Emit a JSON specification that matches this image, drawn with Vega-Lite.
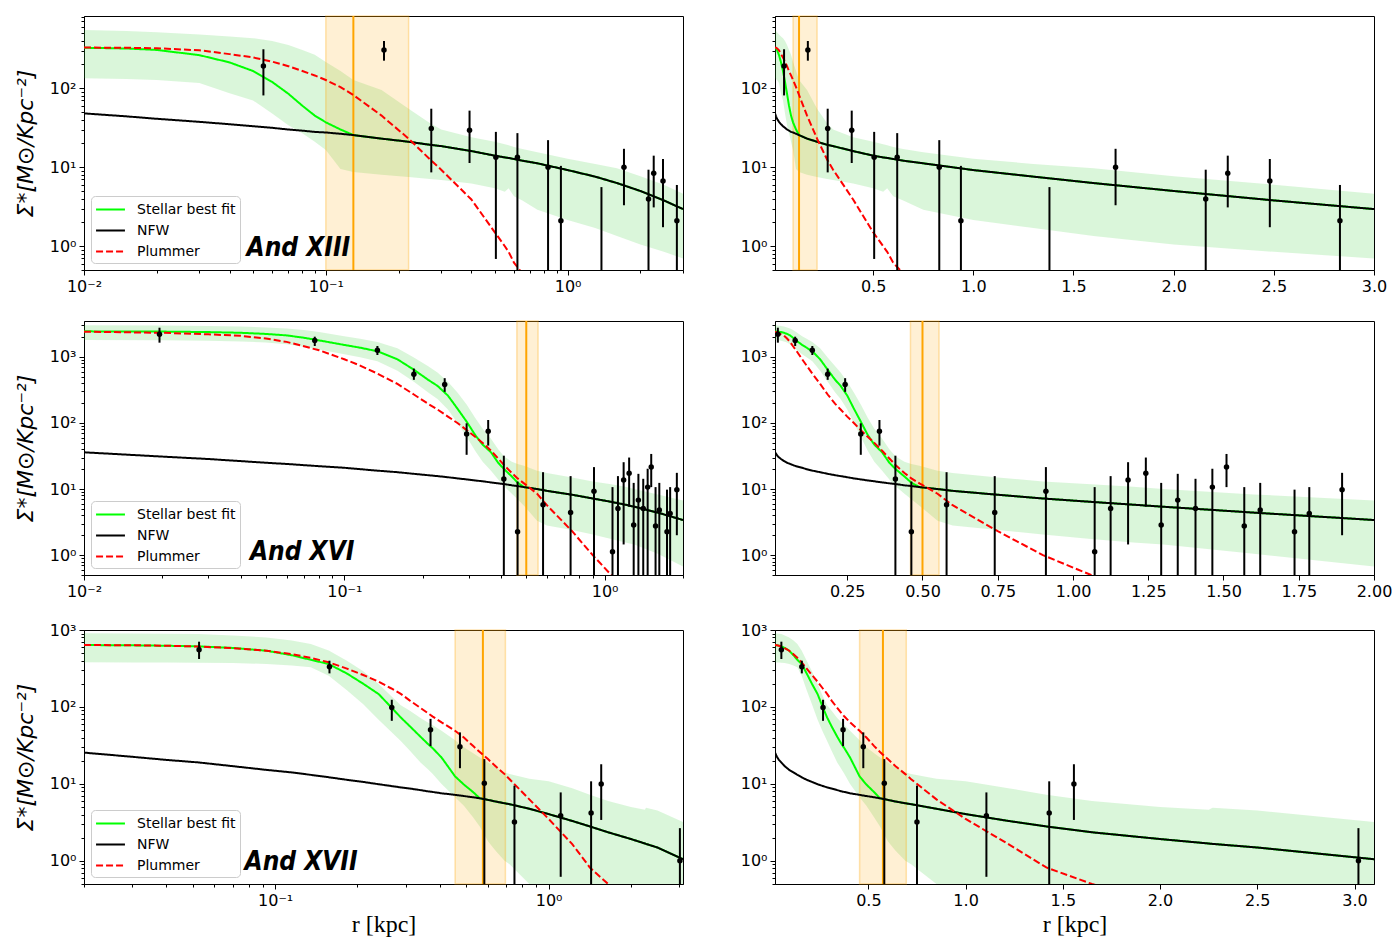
{
  "$schema": "https://vega.github.io/schema/vega-lite/v6.json",
  "background": "white",
  "padding": {"left": 13, "top": 8, "right": 0, "bottom": 0},
  "spacing": 21,
  "config": {
    "view": {"stroke": "black", "strokeWidth": 1},
    "axis": {
      "grid": false,
      "domainColor": "black",
      "domainWidth": 1,
      "tickColor": "black",
      "tickWidth": 1,
      "labelColor": "black",
      "labelFont": "DejaVu Sans",
      "labelFontSize": 16,
      "labelPadding": 3,
      "labelFlush": false,
      "labelOverlap": false,
      "labelBound": false,
      "titleColor": "black",
      "titleFontWeight": "normal"
    },
    "legend": {
      "orient": "bottom-left",
      "offset": 7,
      "padding": 4,
      "fillColor": "rgba(255,255,255,0.8)",
      "strokeColor": "#cccccc",
      "cornerRadius": 4,
      "labelFont": "DejaVu Sans",
      "labelFontSize": 14,
      "labelColor": "black",
      "symbolType": "M-1.7,0H1.7",
      "symbolSize": 289,
      "symbolStrokeWidth": 2,
      "symbolOffset": 6,
      "labelOffset": 17,
      "rowPadding": 4
    }
  },
  "datasets": {
    "xiii": [
      {"r": 0.01, "star": 325, "nfw": 48, "plum": 327, "lo": 134, "hi": 546},
      {"r": 0.015, "star": 318, "nfw": 44, "plum": 325, "lo": 131, "hi": 528},
      {"r": 0.02, "star": 305, "nfw": 41, "plum": 320, "lo": 127, "hi": 510},
      {"r": 0.03, "star": 262, "nfw": 37.5, "plum": 302, "lo": 116, "hi": 480},
      {"r": 0.04, "star": 212, "nfw": 35, "plum": 270, "lo": 86, "hi": 452},
      {"r": 0.05, "star": 165, "nfw": 33, "plum": 245, "lo": 70, "hi": 430},
      {"r": 0.06, "star": 120, "nfw": 31.5, "plum": 217, "lo": 48, "hi": 395},
      {"r": 0.07, "star": 85, "nfw": 30, "plum": 190, "lo": 34, "hi": 352},
      {"r": 0.08, "star": 60, "nfw": 29, "plum": 165, "lo": 27, "hi": 305},
      {"r": 0.09, "star": 45, "nfw": 28, "plum": 145, "lo": 21, "hi": 265},
      {"r": 0.1, "star": 37, "nfw": 27.5, "plum": 127, "lo": 16.5, "hi": 215},
      {"r": 0.115, "star": 30, "nfw": 26.5, "plum": 103, "lo": 9.5, "hi": 165},
      {"r": 0.13, "star": 25.5, "nfw": 25.5, "plum": 82, "lo": 8.7, "hi": 127},
      {"r": 0.17, "star": 23, "nfw": 23, "plum": 45, "lo": 8.0, "hi": 95},
      {"r": 0.22, "star": 21, "nfw": 21, "plum": 23, "lo": 7.5, "hi": 55},
      {"r": 0.27, "star": 19.2, "nfw": 19.2, "plum": 12.5, "lo": 7.1, "hi": 36},
      {"r": 0.3, "star": 18.5, "nfw": 18.5, "plum": 9.3, "lo": 6.9, "hi": 30},
      {"r": 0.4, "star": 16, "nfw": 16, "plum": 3.9, "lo": 6.2, "hi": 24},
      {"r": 0.5, "star": 14, "nfw": 14, "plum": 1.5, "lo": 5.4, "hi": 21},
      {"r": 0.55, "star": 13.3, "nfw": 13.3, "plum": 1.0, "lo": 4.9, "hi": 19.5},
      {"r": 0.57, "star": 13.1, "nfw": 13.1, "plum": 0.85, "lo": 5.4, "hi": 19},
      {"r": 0.6, "star": 12.7, "nfw": 12.7, "plum": 0.62, "lo": 4.3, "hi": 18},
      {"r": 0.65, "star": 12.1, "nfw": 12.1, "plum": 0.45, "lo": 3.8, "hi": 17},
      {"r": 0.75, "star": 11.2, "nfw": 11.2, "plum": null, "lo": 2.9, "hi": 15.5},
      {"r": 1.0, "star": 9.2, "nfw": 9.2, "plum": null, "lo": 2.15, "hi": 12.8},
      {"r": 1.3, "star": 7.6, "nfw": 7.6, "plum": null, "lo": 1.7, "hi": 11},
      {"r": 1.6, "star": 6.3, "nfw": 6.3, "plum": null, "lo": 1.35, "hi": 9.7},
      {"r": 2.0, "star": 5.0, "nfw": 5.0, "plum": null, "lo": 1.05, "hi": 7.7},
      {"r": 2.5, "star": 3.8, "nfw": 3.8, "plum": null, "lo": 0.85, "hi": 6.0},
      {"r": 3.0, "star": 2.95, "nfw": 2.95, "plum": null, "lo": 0.7, "hi": 4.6}
    ],
    "xiii_pts": [
      {"r": 0.0552, "v": 191, "lo": 81, "hi": 311},
      {"r": 0.174, "v": 305, "lo": 223, "hi": 396},
      {"r": 0.273, "v": 31, "lo": 8.6, "hi": 55},
      {"r": 0.393, "v": 29.4, "lo": 11.3, "hi": 52},
      {"r": 0.505, "v": 13.4, "lo": 0.69, "hi": 28},
      {"r": 0.62, "v": 13.4, "lo": 0.05, "hi": 27},
      {"r": 0.83, "v": 10, "lo": 0.05, "hi": 22},
      {"r": 0.938, "v": 2.1, "lo": 0.05, "hi": 10.4},
      {"r": 1.38, "v": 0.2, "lo": 0.05, "hi": 5.6},
      {"r": 1.71, "v": 10, "lo": 3.3, "hi": 17.1},
      {"r": 2.16, "v": 3.96, "lo": 0.05, "hi": 9.3},
      {"r": 2.27, "v": 8.4, "lo": 3.1, "hi": 14},
      {"r": 2.48, "v": 6.7, "lo": 1.74, "hi": 12.7},
      {"r": 2.83, "v": 2.1, "lo": 0.05, "hi": 5.96}
    ],
    "xiii_hl": [{"a": 0.1, "b": 0.22, "c": 0.13}],
    "xiii_lbl": [{"r": 0.047, "v": 0.76, "t": "And XIII"}],
    "xvi": [
      {"r": 0.01, "star": 2440, "nfw": 36, "plum": 2410, "lo": 1800, "hi": 3030},
      {"r": 0.02, "star": 2420, "nfw": 31, "plum": 2320, "lo": 1790, "hi": 3000},
      {"r": 0.03, "star": 2380, "nfw": 28.5, "plum": 2200, "lo": 1760, "hi": 2950},
      {"r": 0.04, "star": 2320, "nfw": 26.5, "plum": 2090, "lo": 1720, "hi": 2880},
      {"r": 0.05, "star": 2230, "nfw": 25, "plum": 1900, "lo": 1650, "hi": 2800},
      {"r": 0.06, "star": 2120, "nfw": 24, "plum": 1690, "lo": 1560, "hi": 2700},
      {"r": 0.07, "star": 1950, "nfw": 23, "plum": 1450, "lo": 1430, "hi": 2550},
      {"r": 0.08, "star": 1780, "nfw": 22.2, "plum": 1260, "lo": 1300, "hi": 2380},
      {"r": 0.1, "star": 1520, "nfw": 21, "plum": 923, "lo": 1100, "hi": 2050},
      {"r": 0.115, "star": 1380, "nfw": 20, "plum": 740, "lo": 990, "hi": 1880},
      {"r": 0.134, "star": 1220, "nfw": 19, "plum": 560, "lo": 860, "hi": 1680},
      {"r": 0.16, "star": 920, "nfw": 18, "plum": 390, "lo": 620, "hi": 1350},
      {"r": 0.185, "star": 640, "nfw": 17, "plum": 270, "lo": 420, "hi": 980},
      {"r": 0.21, "star": 450, "nfw": 16.2, "plum": 195, "lo": 290, "hi": 720},
      {"r": 0.228, "star": 365, "nfw": 15.7, "plum": 160, "lo": 230, "hi": 580},
      {"r": 0.25, "star": 260, "nfw": 15.1, "plum": 125, "lo": 160, "hi": 420},
      {"r": 0.272, "star": 165, "nfw": 14.5, "plum": 100, "lo": 100, "hi": 290},
      {"r": 0.295, "star": 105, "nfw": 14, "plum": 78, "lo": 62, "hi": 190},
      {"r": 0.318, "star": 66, "nfw": 13.5, "plum": 62, "lo": 38, "hi": 120},
      {"r": 0.34, "star": 47, "nfw": 13.1, "plum": 50, "lo": 26, "hi": 82},
      {"r": 0.366, "star": 36, "nfw": 12.6, "plum": 38, "lo": 19, "hi": 58},
      {"r": 0.39, "star": 25, "nfw": 12.2, "plum": 29, "lo": 14, "hi": 40},
      {"r": 0.411, "star": 20, "nfw": 11.9, "plum": 23, "lo": 11, "hi": 31},
      {"r": 0.44, "star": 15.5, "nfw": 11.4, "plum": 17.5, "lo": 8.5, "hi": 26},
      {"r": 0.463, "star": 12.5, "nfw": 11.1, "plum": 14.5, "lo": 7.0, "hi": 24},
      {"r": 0.49, "star": 10.7, "nfw": 10.7, "plum": 12.2, "lo": 5.6, "hi": 22.5},
      {"r": 0.55, "star": 10, "nfw": 10, "plum": 8.5, "lo": 3.3, "hi": 19},
      {"r": 0.6, "star": 9.4, "nfw": 9.4, "plum": 5.7, "lo": 2.8, "hi": 17.5},
      {"r": 0.75, "star": 8.2, "nfw": 8.2, "plum": 2.3, "lo": 2.4, "hi": 15},
      {"r": 0.9, "star": 7.2, "nfw": 7.2, "plum": 1.0, "lo": 2.05, "hi": 13},
      {"r": 1.06, "star": 6.4, "nfw": 6.4, "plum": 0.5, "lo": 1.75, "hi": 11.8},
      {"r": 1.2, "star": 5.8, "nfw": 5.8, "plum": 0.32, "lo": 1.55, "hi": 10.8},
      {"r": 1.3, "star": 5.4, "nfw": 5.4, "plum": null, "lo": 1.45, "hi": 10},
      {"r": 1.6, "star": 4.4, "nfw": 4.4, "plum": null, "lo": 1.05, "hi": 8.3},
      {"r": 2.0, "star": 3.4, "nfw": 3.4, "plum": null, "lo": 0.67, "hi": 6.7}
    ],
    "xvi_pts": [
      {"r": 0.0195, "v": 2200, "lo": 1645, "hi": 2770},
      {"r": 0.077, "v": 1780, "lo": 1465, "hi": 2025},
      {"r": 0.134, "v": 1260, "lo": 1070, "hi": 1465},
      {"r": 0.185, "v": 548, "lo": 450, "hi": 667},
      {"r": 0.243, "v": 383, "lo": 296, "hi": 477},
      {"r": 0.295, "v": 68, "lo": 33, "hi": 99},
      {"r": 0.357, "v": 75, "lo": 45.5, "hi": 111},
      {"r": 0.41, "v": 14.2, "lo": 0.05, "hi": 32},
      {"r": 0.463, "v": 2.25, "lo": 0.05, "hi": 13},
      {"r": 0.58, "v": 5.8, "lo": 0.05, "hi": 18},
      {"r": 0.74, "v": 4.4, "lo": 0.05, "hi": 15.7},
      {"r": 0.91, "v": 9.3, "lo": 0.05, "hi": 21.5},
      {"r": 1.072, "v": 1.12, "lo": 0.05, "hi": 10.7},
      {"r": 1.125, "v": 5.06, "lo": 0.05, "hi": 15.7},
      {"r": 1.183, "v": 13.7, "lo": 1.45, "hi": 25.5},
      {"r": 1.242, "v": 17.4, "lo": 5.4, "hi": 30},
      {"r": 1.293, "v": 2.86, "lo": 0.05, "hi": 12.4},
      {"r": 1.348, "v": 6.8, "lo": 0.05, "hi": 17},
      {"r": 1.407, "v": 5.06, "lo": 0.05, "hi": 14.3},
      {"r": 1.463, "v": 10.7, "lo": 0.05, "hi": 20.3},
      {"r": 1.51, "v": 21.5, "lo": 10.7, "hi": 34},
      {"r": 1.569, "v": 2.77, "lo": 0.05, "hi": 10.7},
      {"r": 1.622, "v": 4.8, "lo": 0.05, "hi": 12.4},
      {"r": 1.736, "v": 2.25, "lo": 0.05, "hi": 9.8},
      {"r": 1.785, "v": 4.25, "lo": 0.05, "hi": 10.7},
      {"r": 1.894, "v": 9.8, "lo": 2.0, "hi": 17.6}
    ],
    "xvi_hl": [{"a": 0.46, "b": 0.555, "c": 0.5}],
    "xvi_lbl": [{"r": 0.0434, "v": 0.85, "t": "And XVI"}],
    "xvii": [
      {"r": 0.02, "star": 638, "nfw": 25.5, "plum": 638, "lo": 380, "hi": 905},
      {"r": 0.03, "star": 632, "nfw": 22.5, "plum": 634, "lo": 379, "hi": 900},
      {"r": 0.04, "star": 624, "nfw": 20.5, "plum": 625, "lo": 378, "hi": 895},
      {"r": 0.0525, "star": 612, "nfw": 19, "plum": 610, "lo": 376, "hi": 885},
      {"r": 0.07, "star": 585, "nfw": 17, "plum": 580, "lo": 372, "hi": 850},
      {"r": 0.093, "star": 538, "nfw": 15.2, "plum": 538, "lo": 362, "hi": 800},
      {"r": 0.115, "star": 470, "nfw": 14.1, "plum": 485, "lo": 345, "hi": 730},
      {"r": 0.135, "star": 410, "nfw": 13.1, "plum": 435, "lo": 327, "hi": 658},
      {"r": 0.157, "star": 361, "nfw": 12.2, "plum": 380, "lo": 255, "hi": 540},
      {"r": 0.183, "star": 272, "nfw": 11.3, "plum": 315, "lo": 165, "hi": 398},
      {"r": 0.21, "star": 200, "nfw": 10.6, "plum": 260, "lo": 108, "hi": 290},
      {"r": 0.239, "star": 147, "nfw": 9.9, "plum": 213, "lo": 68, "hi": 199},
      {"r": 0.265, "star": 100, "nfw": 9.4, "plum": 175, "lo": 48, "hi": 140},
      {"r": 0.288, "star": 73, "nfw": 9.0, "plum": 148, "lo": 36, "hi": 105},
      {"r": 0.311, "star": 56, "nfw": 8.7, "plum": 121, "lo": 27, "hi": 89},
      {"r": 0.34, "star": 41, "nfw": 8.3, "plum": 97, "lo": 19, "hi": 72},
      {"r": 0.362, "star": 33, "nfw": 8.0, "plum": 83, "lo": 15.5, "hi": 63},
      {"r": 0.377, "star": 29, "nfw": 7.85, "plum": 75, "lo": 13.4, "hi": 58},
      {"r": 0.406, "star": 22, "nfw": 7.55, "plum": 63, "lo": 10, "hi": 49},
      {"r": 0.455, "star": 12.5, "nfw": 7.2, "plum": 49, "lo": 6.7, "hi": 37},
      {"r": 0.49, "star": 9.8, "nfw": 6.95, "plum": 40, "lo": 5.2, "hi": 30},
      {"r": 0.53, "star": 7.8, "nfw": 6.7, "plum": 31, "lo": 3.66, "hi": 25},
      {"r": 0.56, "star": 6.5, "nfw": 6.5, "plum": 26, "lo": 2.8, "hi": 22},
      {"r": 0.6, "star": 6.2, "nfw": 6.2, "plum": 21, "lo": 1.8, "hi": 19},
      {"r": 0.64, "star": 5.9, "nfw": 5.9, "plum": 17, "lo": 1.35, "hi": 16.4},
      {"r": 0.69, "star": 5.6, "nfw": 5.6, "plum": 13.4, "lo": 1.0, "hi": 14.2},
      {"r": 0.72, "star": 5.45, "nfw": 5.45, "plum": 11.5, "lo": 0.9, "hi": 13.4},
      {"r": 0.85, "star": 4.75, "nfw": 4.75, "plum": 6.3, "lo": 0.5, "hi": 11.7},
      {"r": 1.0, "star": 4.05, "nfw": 4.05, "plum": 3.5, "lo": 0.35, "hi": 10.8},
      {"r": 1.22, "star": 3.3, "nfw": 3.3, "plum": 1.65, "lo": 0.3, "hi": 8.8},
      {"r": 1.415, "star": 2.8, "nfw": 2.8, "plum": 0.82, "lo": 0.3, "hi": 7.2},
      {"r": 1.65, "star": 2.35, "nfw": 2.35, "plum": 0.5, "lo": 0.3, "hi": 6.0},
      {"r": 2.0, "star": 1.92, "nfw": 1.92, "plum": 0.28, "lo": 0.3, "hi": 5.0},
      {"r": 2.25, "star": 1.68, "nfw": 1.68, "plum": null, "lo": 0.3, "hi": 4.6},
      {"r": 2.27, "star": 1.66, "nfw": 1.66, "plum": null, "lo": 0.3, "hi": 4.9},
      {"r": 2.5, "star": 1.49, "nfw": 1.49, "plum": null, "lo": 0.3, "hi": 4.5},
      {"r": 3.1, "star": 1.05, "nfw": 1.05, "plum": null, "lo": 0.3, "hi": 3.2}
    ],
    "xvii_pts": [
      {"r": 0.0527, "v": 555, "lo": 420, "hi": 705},
      {"r": 0.158, "v": 334, "lo": 273, "hi": 399},
      {"r": 0.267, "v": 98.6, "lo": 66, "hi": 124},
      {"r": 0.37, "v": 50.6, "lo": 31, "hi": 70},
      {"r": 0.474, "v": 30.4, "lo": 16, "hi": 46.7},
      {"r": 0.582, "v": 10.2, "lo": 0.05, "hi": 21},
      {"r": 0.75, "v": 3.2, "lo": 0.05, "hi": 9.5},
      {"r": 1.107, "v": 3.85, "lo": 0.62, "hi": 7.75},
      {"r": 1.43, "v": 4.2, "lo": 0.05, "hi": 10.8},
      {"r": 1.557, "v": 10, "lo": 3.4, "hi": 18},
      {"r": 3.02, "v": 1.0, "lo": 0.05, "hi": 2.66}
    ],
    "xvii_hl": [{"a": 0.455, "b": 0.695, "c": 0.575}],
    "xvii_lbl": [{"r": 0.0773, "v": 0.757, "t": "And XVII"}]
  },
  "resolve": {"scale": {"color": "independent", "strokeDash": "independent"}},
  "vconcat": [
    {
      "spacing": 55,
      "resolve": {"scale": {"color": "independent", "strokeDash": "independent"}},
      "hconcat": [
        {
          "width": 599, "height": 254,
          "layer": [
            {"data": {"name": "xiii"}, "mark": {"type": "area", "color": "#32cd32", "opacity": 0.18, "clip": true},
             "encoding": {
               "x": {"field": "r", "type": "quantitative", "scale": {"type": "log", "domain": [0.01, 3], "nice": false},
                     "axis": {"title": null, "values": [0.01,0.02,0.03,0.04,0.05,0.06,0.07,0.08,0.09,0.1,0.2,0.3,0.4,0.5,0.6,0.7,0.8,0.9,1,2,3],
                              "labelExpr": "abs(log(datum.value)/LN10 - round(log(datum.value)/LN10)) < 0.001 ? ['10⁻²','10⁻¹','10⁰','10¹','10²','10³'][round(log(datum.value)/LN10) + 2] : ''",
                              "tickSize": {"condition": {"test": "abs(log(datum.value)/LN10 - round(log(datum.value)/LN10)) < 0.001", "value": 5}, "value": 3}}},
               "y": {"field": "hi", "type": "quantitative", "scale": {"type": "log", "domain": [0.5, 820], "nice": false},
                     "axis": {"title": "Σ*[M⊙/Kpc⁻²]", "titleFont": "DejaVu Sans", "titleFontSize": 22, "titleFontStyle": "italic", "titlePadding": 12,
                              "values": [0.5,0.6,0.7,0.8,0.9,1,2,3,4,5,6,7,8,9,10,20,30,40,50,60,70,80,90,100,200,300,400,500,600,700,800],
                              "labelExpr": "abs(log(datum.value)/LN10 - round(log(datum.value)/LN10)) < 0.001 ? ['10⁻²','10⁻¹','10⁰','10¹','10²','10³'][round(log(datum.value)/LN10) + 2] : ''",
                              "tickSize": {"condition": {"test": "abs(log(datum.value)/LN10 - round(log(datum.value)/LN10)) < 0.001", "value": 5}, "value": 3}}},
               "y2": {"field": "lo"}
             }},
            {"data": {"name": "xiii_hl"}, "mark": {"type": "rect", "fill": "#ffa500", "fillOpacity": 0.17, "stroke": "#ffa500", "strokeOpacity": 0.3, "strokeWidth": 1.5},
             "encoding": {"x": {"field": "a", "type": "quantitative", "scale": {"type": "log", "domain": [0.01, 3], "nice": false}}, "x2": {"field": "b"}}},
            {"data": {"name": "xiii_hl"}, "mark": {"type": "rule", "color": "#ffa500", "strokeWidth": 2},
             "encoding": {"x": {"field": "c", "type": "quantitative", "scale": {"type": "log", "domain": [0.01, 3], "nice": false}}}},
            {"data": {"name": "xiii"}, "mark": {"type": "line", "strokeWidth": 2, "clip": true},
             "encoding": {
               "x": {"field": "r", "type": "quantitative", "scale": {"type": "log", "domain": [0.01, 3], "nice": false}},
               "y": {"field": "star", "type": "quantitative", "scale": {"type": "log", "domain": [0.5, 820], "nice": false}},
               "color": {"datum": "Stellar best fit", "type": "nominal", "scale": {"domain": ["Stellar best fit", "NFW", "Plummer"], "range": ["#00ff00", "#000000", "#ff0000"]}, "legend": {"title": null}},
               "strokeDash": {"datum": "Stellar best fit", "type": "nominal", "scale": {"domain": ["Stellar best fit", "NFW", "Plummer"], "range": [[1, 0], [1, 0], [7, 3]]}, "legend": {"title": null}}
             }},
            {"data": {"name": "xiii"}, "mark": {"type": "line", "strokeWidth": 2, "clip": true},
             "encoding": {
               "x": {"field": "r", "type": "quantitative", "scale": {"type": "log", "domain": [0.01, 3], "nice": false}},
               "y": {"field": "nfw", "type": "quantitative", "scale": {"type": "log", "domain": [0.5, 820], "nice": false}},
               "color": {"datum": "NFW", "type": "nominal", "scale": {"domain": ["Stellar best fit", "NFW", "Plummer"], "range": ["#00ff00", "#000000", "#ff0000"]}, "legend": {"title": null}},
               "strokeDash": {"datum": "NFW", "type": "nominal", "scale": {"domain": ["Stellar best fit", "NFW", "Plummer"], "range": [[1, 0], [1, 0], [7, 3]]}, "legend": {"title": null}}
             }},
            {"data": {"name": "xiii"}, "mark": {"type": "line", "strokeWidth": 2, "clip": true},
             "encoding": {
               "x": {"field": "r", "type": "quantitative", "scale": {"type": "log", "domain": [0.01, 3], "nice": false}},
               "y": {"field": "plum", "type": "quantitative", "scale": {"type": "log", "domain": [0.5, 820], "nice": false}},
               "color": {"datum": "Plummer", "type": "nominal", "scale": {"domain": ["Stellar best fit", "NFW", "Plummer"], "range": ["#00ff00", "#000000", "#ff0000"]}, "legend": {"title": null}},
               "strokeDash": {"datum": "Plummer", "type": "nominal", "scale": {"domain": ["Stellar best fit", "NFW", "Plummer"], "range": [[1, 0], [1, 0], [7, 3]]}, "legend": {"title": null}}
             }},
            {"data": {"name": "xiii_pts"}, "mark": {"type": "rule", "color": "black", "strokeWidth": 2, "clip": true},
             "encoding": {
               "x": {"field": "r", "type": "quantitative", "scale": {"type": "log", "domain": [0.01, 3], "nice": false}},
               "y": {"field": "lo", "type": "quantitative", "scale": {"type": "log", "domain": [0.5, 820], "nice": false}},
               "y2": {"field": "hi"}
             }},
            {"data": {"name": "xiii_pts"}, "mark": {"type": "circle", "color": "black", "opacity": 1, "size": 30, "clip": true},
             "encoding": {
               "x": {"field": "r", "type": "quantitative", "scale": {"type": "log", "domain": [0.01, 3], "nice": false}},
               "y": {"field": "v", "type": "quantitative", "scale": {"type": "log", "domain": [0.5, 820], "nice": false}}
             }},
            {"data": {"name": "xiii_lbl"}, "mark": {"type": "text", "font": "DejaVu Sans Condensed, DejaVu Sans", "fontSize": 26, "fontWeight": "bold", "fontStyle": "italic", "align": "left", "baseline": "alphabetic", "color": "black"},
             "encoding": {
               "x": {"field": "r", "type": "quantitative", "scale": {"type": "log", "domain": [0.01, 3], "nice": false}},
               "y": {"field": "v", "type": "quantitative", "scale": {"type": "log", "domain": [0.5, 820], "nice": false}},
               "text": {"field": "t"}
             }}
          ]
        },
        {
          "width": 599, "height": 254,
          "layer": [
            {"data": {"name": "xiii"}, "mark": {"type": "area", "color": "#32cd32", "opacity": 0.18, "clip": true},
             "encoding": {
               "x": {"field": "r", "type": "quantitative", "scale": {"type": "linear", "domain": [0.01, 3], "nice": false, "zero": false},
                     "axis": {"title": null, "values": [0.5, 1, 1.5, 2, 2.5, 3], "format": ".1f", "tickSize": 5}},
               "y": {"field": "hi", "type": "quantitative", "scale": {"type": "log", "domain": [0.5, 820], "nice": false},
                     "axis": {"title": null,
                              "values": [0.5,0.6,0.7,0.8,0.9,1,2,3,4,5,6,7,8,9,10,20,30,40,50,60,70,80,90,100,200,300,400,500,600,700,800],
                              "labelExpr": "abs(log(datum.value)/LN10 - round(log(datum.value)/LN10)) < 0.001 ? ['10⁻²','10⁻¹','10⁰','10¹','10²','10³'][round(log(datum.value)/LN10) + 2] : ''",
                              "tickSize": {"condition": {"test": "abs(log(datum.value)/LN10 - round(log(datum.value)/LN10)) < 0.001", "value": 5}, "value": 3}}},
               "y2": {"field": "lo"}
             }},
            {"data": {"name": "xiii_hl"}, "mark": {"type": "rect", "fill": "#ffa500", "fillOpacity": 0.17, "stroke": "#ffa500", "strokeOpacity": 0.3, "strokeWidth": 1.5},
             "encoding": {"x": {"field": "a", "type": "quantitative", "scale": {"type": "linear", "domain": [0.01, 3], "nice": false, "zero": false}}, "x2": {"field": "b"}}},
            {"data": {"name": "xiii_hl"}, "mark": {"type": "rule", "color": "#ffa500", "strokeWidth": 2},
             "encoding": {"x": {"field": "c", "type": "quantitative", "scale": {"type": "linear", "domain": [0.01, 3], "nice": false, "zero": false}}}},
            {"data": {"name": "xiii"}, "mark": {"type": "line", "strokeWidth": 2, "clip": true},
             "encoding": {
               "x": {"field": "r", "type": "quantitative", "scale": {"type": "linear", "domain": [0.01, 3], "nice": false, "zero": false}},
               "y": {"field": "star", "type": "quantitative", "scale": {"type": "log", "domain": [0.5, 820], "nice": false}},
               "color": {"datum": "Stellar best fit", "type": "nominal", "scale": {"domain": ["Stellar best fit", "NFW", "Plummer"], "range": ["#00ff00", "#000000", "#ff0000"]}, "legend": null},
               "strokeDash": {"datum": "Stellar best fit", "type": "nominal", "scale": {"domain": ["Stellar best fit", "NFW", "Plummer"], "range": [[1, 0], [1, 0], [7, 3]]}, "legend": null}
             }},
            {"data": {"name": "xiii"}, "mark": {"type": "line", "strokeWidth": 2, "clip": true},
             "encoding": {
               "x": {"field": "r", "type": "quantitative", "scale": {"type": "linear", "domain": [0.01, 3], "nice": false, "zero": false}},
               "y": {"field": "nfw", "type": "quantitative", "scale": {"type": "log", "domain": [0.5, 820], "nice": false}},
               "color": {"datum": "NFW", "type": "nominal", "scale": {"domain": ["Stellar best fit", "NFW", "Plummer"], "range": ["#00ff00", "#000000", "#ff0000"]}, "legend": null},
               "strokeDash": {"datum": "NFW", "type": "nominal", "scale": {"domain": ["Stellar best fit", "NFW", "Plummer"], "range": [[1, 0], [1, 0], [7, 3]]}, "legend": null}
             }},
            {"data": {"name": "xiii"}, "mark": {"type": "line", "strokeWidth": 2, "clip": true},
             "encoding": {
               "x": {"field": "r", "type": "quantitative", "scale": {"type": "linear", "domain": [0.01, 3], "nice": false, "zero": false}},
               "y": {"field": "plum", "type": "quantitative", "scale": {"type": "log", "domain": [0.5, 820], "nice": false}},
               "color": {"datum": "Plummer", "type": "nominal", "scale": {"domain": ["Stellar best fit", "NFW", "Plummer"], "range": ["#00ff00", "#000000", "#ff0000"]}, "legend": null},
               "strokeDash": {"datum": "Plummer", "type": "nominal", "scale": {"domain": ["Stellar best fit", "NFW", "Plummer"], "range": [[1, 0], [1, 0], [7, 3]]}, "legend": null}
             }},
            {"data": {"name": "xiii_pts"}, "mark": {"type": "rule", "color": "black", "strokeWidth": 2, "clip": true},
             "encoding": {
               "x": {"field": "r", "type": "quantitative", "scale": {"type": "linear", "domain": [0.01, 3], "nice": false, "zero": false}},
               "y": {"field": "lo", "type": "quantitative", "scale": {"type": "log", "domain": [0.5, 820], "nice": false}},
               "y2": {"field": "hi"}
             }},
            {"data": {"name": "xiii_pts"}, "mark": {"type": "circle", "color": "black", "opacity": 1, "size": 30, "clip": true},
             "encoding": {
               "x": {"field": "r", "type": "quantitative", "scale": {"type": "linear", "domain": [0.01, 3], "nice": false, "zero": false}},
               "y": {"field": "v", "type": "quantitative", "scale": {"type": "log", "domain": [0.5, 820], "nice": false}}
             }}
          ]
        }
      ]
    },
    {
      "spacing": 55,
      "resolve": {"scale": {"color": "independent", "strokeDash": "independent"}},
      "hconcat": [
        {
          "width": 599, "height": 254,
          "layer": [
            {"data": {"name": "xvi"}, "mark": {"type": "area", "color": "#32cd32", "opacity": 0.18, "clip": true},
             "encoding": {
               "x": {"field": "r", "type": "quantitative", "scale": {"type": "log", "domain": [0.01, 2], "nice": false},
                     "axis": {"title": null, "values": [0.01,0.02,0.03,0.04,0.05,0.06,0.07,0.08,0.09,0.1,0.2,0.3,0.4,0.5,0.6,0.7,0.8,0.9,1,2],
                              "labelExpr": "abs(log(datum.value)/LN10 - round(log(datum.value)/LN10)) < 0.001 ? ['10⁻²','10⁻¹','10⁰','10¹','10²','10³'][round(log(datum.value)/LN10) + 2] : ''",
                              "tickSize": {"condition": {"test": "abs(log(datum.value)/LN10 - round(log(datum.value)/LN10)) < 0.001", "value": 5}, "value": 3}}},
               "y": {"field": "hi", "type": "quantitative", "scale": {"type": "log", "domain": [0.5, 3500], "nice": false},
                     "axis": {"title": "Σ*[M⊙/Kpc⁻²]", "titleFont": "DejaVu Sans", "titleFontSize": 22, "titleFontStyle": "italic", "titlePadding": 12,
                              "values": [0.5,0.6,0.7,0.8,0.9,1,2,3,4,5,6,7,8,9,10,20,30,40,50,60,70,80,90,100,200,300,400,500,600,700,800,900,1000,2000,3000],
                              "labelExpr": "abs(log(datum.value)/LN10 - round(log(datum.value)/LN10)) < 0.001 ? ['10⁻²','10⁻¹','10⁰','10¹','10²','10³'][round(log(datum.value)/LN10) + 2] : ''",
                              "tickSize": {"condition": {"test": "abs(log(datum.value)/LN10 - round(log(datum.value)/LN10)) < 0.001", "value": 5}, "value": 3}}},
               "y2": {"field": "lo"}
             }},
            {"data": {"name": "xvi_hl"}, "mark": {"type": "rect", "fill": "#ffa500", "fillOpacity": 0.17, "stroke": "#ffa500", "strokeOpacity": 0.3, "strokeWidth": 1.5},
             "encoding": {"x": {"field": "a", "type": "quantitative", "scale": {"type": "log", "domain": [0.01, 2], "nice": false}}, "x2": {"field": "b"}}},
            {"data": {"name": "xvi_hl"}, "mark": {"type": "rule", "color": "#ffa500", "strokeWidth": 2},
             "encoding": {"x": {"field": "c", "type": "quantitative", "scale": {"type": "log", "domain": [0.01, 2], "nice": false}}}},
            {"data": {"name": "xvi"}, "mark": {"type": "line", "strokeWidth": 2, "clip": true},
             "encoding": {
               "x": {"field": "r", "type": "quantitative", "scale": {"type": "log", "domain": [0.01, 2], "nice": false}},
               "y": {"field": "star", "type": "quantitative", "scale": {"type": "log", "domain": [0.5, 3500], "nice": false}},
               "color": {"datum": "Stellar best fit", "type": "nominal", "scale": {"domain": ["Stellar best fit", "NFW", "Plummer"], "range": ["#00ff00", "#000000", "#ff0000"]}, "legend": {"title": null}},
               "strokeDash": {"datum": "Stellar best fit", "type": "nominal", "scale": {"domain": ["Stellar best fit", "NFW", "Plummer"], "range": [[1, 0], [1, 0], [7, 3]]}, "legend": {"title": null}}
             }},
            {"data": {"name": "xvi"}, "mark": {"type": "line", "strokeWidth": 2, "clip": true},
             "encoding": {
               "x": {"field": "r", "type": "quantitative", "scale": {"type": "log", "domain": [0.01, 2], "nice": false}},
               "y": {"field": "nfw", "type": "quantitative", "scale": {"type": "log", "domain": [0.5, 3500], "nice": false}},
               "color": {"datum": "NFW", "type": "nominal", "scale": {"domain": ["Stellar best fit", "NFW", "Plummer"], "range": ["#00ff00", "#000000", "#ff0000"]}, "legend": {"title": null}},
               "strokeDash": {"datum": "NFW", "type": "nominal", "scale": {"domain": ["Stellar best fit", "NFW", "Plummer"], "range": [[1, 0], [1, 0], [7, 3]]}, "legend": {"title": null}}
             }},
            {"data": {"name": "xvi"}, "mark": {"type": "line", "strokeWidth": 2, "clip": true},
             "encoding": {
               "x": {"field": "r", "type": "quantitative", "scale": {"type": "log", "domain": [0.01, 2], "nice": false}},
               "y": {"field": "plum", "type": "quantitative", "scale": {"type": "log", "domain": [0.5, 3500], "nice": false}},
               "color": {"datum": "Plummer", "type": "nominal", "scale": {"domain": ["Stellar best fit", "NFW", "Plummer"], "range": ["#00ff00", "#000000", "#ff0000"]}, "legend": {"title": null}},
               "strokeDash": {"datum": "Plummer", "type": "nominal", "scale": {"domain": ["Stellar best fit", "NFW", "Plummer"], "range": [[1, 0], [1, 0], [7, 3]]}, "legend": {"title": null}}
             }},
            {"data": {"name": "xvi_pts"}, "mark": {"type": "rule", "color": "black", "strokeWidth": 2, "clip": true},
             "encoding": {
               "x": {"field": "r", "type": "quantitative", "scale": {"type": "log", "domain": [0.01, 2], "nice": false}},
               "y": {"field": "lo", "type": "quantitative", "scale": {"type": "log", "domain": [0.5, 3500], "nice": false}},
               "y2": {"field": "hi"}
             }},
            {"data": {"name": "xvi_pts"}, "mark": {"type": "circle", "color": "black", "opacity": 1, "size": 30, "clip": true},
             "encoding": {
               "x": {"field": "r", "type": "quantitative", "scale": {"type": "log", "domain": [0.01, 2], "nice": false}},
               "y": {"field": "v", "type": "quantitative", "scale": {"type": "log", "domain": [0.5, 3500], "nice": false}}
             }},
            {"data": {"name": "xvi_lbl"}, "mark": {"type": "text", "font": "DejaVu Sans Condensed, DejaVu Sans", "fontSize": 26, "fontWeight": "bold", "fontStyle": "italic", "align": "left", "baseline": "alphabetic", "color": "black"},
             "encoding": {
               "x": {"field": "r", "type": "quantitative", "scale": {"type": "log", "domain": [0.01, 2], "nice": false}},
               "y": {"field": "v", "type": "quantitative", "scale": {"type": "log", "domain": [0.5, 3500], "nice": false}},
               "text": {"field": "t"}
             }}
          ]
        },
        {
          "width": 599, "height": 254,
          "layer": [
            {"data": {"name": "xvi"}, "mark": {"type": "area", "color": "#32cd32", "opacity": 0.18, "clip": true},
             "encoding": {
               "x": {"field": "r", "type": "quantitative", "scale": {"type": "linear", "domain": [0.01, 2], "nice": false, "zero": false},
                     "axis": {"title": null, "values": [0.25, 0.5, 0.75, 1, 1.25, 1.5, 1.75, 2], "format": ".2f", "tickSize": 5}},
               "y": {"field": "hi", "type": "quantitative", "scale": {"type": "log", "domain": [0.5, 3500], "nice": false},
                     "axis": {"title": null,
                              "values": [0.5,0.6,0.7,0.8,0.9,1,2,3,4,5,6,7,8,9,10,20,30,40,50,60,70,80,90,100,200,300,400,500,600,700,800,900,1000,2000,3000],
                              "labelExpr": "abs(log(datum.value)/LN10 - round(log(datum.value)/LN10)) < 0.001 ? ['10⁻²','10⁻¹','10⁰','10¹','10²','10³'][round(log(datum.value)/LN10) + 2] : ''",
                              "tickSize": {"condition": {"test": "abs(log(datum.value)/LN10 - round(log(datum.value)/LN10)) < 0.001", "value": 5}, "value": 3}}},
               "y2": {"field": "lo"}
             }},
            {"data": {"name": "xvi_hl"}, "mark": {"type": "rect", "fill": "#ffa500", "fillOpacity": 0.17, "stroke": "#ffa500", "strokeOpacity": 0.3, "strokeWidth": 1.5},
             "encoding": {"x": {"field": "a", "type": "quantitative", "scale": {"type": "linear", "domain": [0.01, 2], "nice": false, "zero": false}}, "x2": {"field": "b"}}},
            {"data": {"name": "xvi_hl"}, "mark": {"type": "rule", "color": "#ffa500", "strokeWidth": 2},
             "encoding": {"x": {"field": "c", "type": "quantitative", "scale": {"type": "linear", "domain": [0.01, 2], "nice": false, "zero": false}}}},
            {"data": {"name": "xvi"}, "mark": {"type": "line", "strokeWidth": 2, "clip": true},
             "encoding": {
               "x": {"field": "r", "type": "quantitative", "scale": {"type": "linear", "domain": [0.01, 2], "nice": false, "zero": false}},
               "y": {"field": "star", "type": "quantitative", "scale": {"type": "log", "domain": [0.5, 3500], "nice": false}},
               "color": {"datum": "Stellar best fit", "type": "nominal", "scale": {"domain": ["Stellar best fit", "NFW", "Plummer"], "range": ["#00ff00", "#000000", "#ff0000"]}, "legend": null},
               "strokeDash": {"datum": "Stellar best fit", "type": "nominal", "scale": {"domain": ["Stellar best fit", "NFW", "Plummer"], "range": [[1, 0], [1, 0], [7, 3]]}, "legend": null}
             }},
            {"data": {"name": "xvi"}, "mark": {"type": "line", "strokeWidth": 2, "clip": true},
             "encoding": {
               "x": {"field": "r", "type": "quantitative", "scale": {"type": "linear", "domain": [0.01, 2], "nice": false, "zero": false}},
               "y": {"field": "nfw", "type": "quantitative", "scale": {"type": "log", "domain": [0.5, 3500], "nice": false}},
               "color": {"datum": "NFW", "type": "nominal", "scale": {"domain": ["Stellar best fit", "NFW", "Plummer"], "range": ["#00ff00", "#000000", "#ff0000"]}, "legend": null},
               "strokeDash": {"datum": "NFW", "type": "nominal", "scale": {"domain": ["Stellar best fit", "NFW", "Plummer"], "range": [[1, 0], [1, 0], [7, 3]]}, "legend": null}
             }},
            {"data": {"name": "xvi"}, "mark": {"type": "line", "strokeWidth": 2, "clip": true},
             "encoding": {
               "x": {"field": "r", "type": "quantitative", "scale": {"type": "linear", "domain": [0.01, 2], "nice": false, "zero": false}},
               "y": {"field": "plum", "type": "quantitative", "scale": {"type": "log", "domain": [0.5, 3500], "nice": false}},
               "color": {"datum": "Plummer", "type": "nominal", "scale": {"domain": ["Stellar best fit", "NFW", "Plummer"], "range": ["#00ff00", "#000000", "#ff0000"]}, "legend": null},
               "strokeDash": {"datum": "Plummer", "type": "nominal", "scale": {"domain": ["Stellar best fit", "NFW", "Plummer"], "range": [[1, 0], [1, 0], [7, 3]]}, "legend": null}
             }},
            {"data": {"name": "xvi_pts"}, "mark": {"type": "rule", "color": "black", "strokeWidth": 2, "clip": true},
             "encoding": {
               "x": {"field": "r", "type": "quantitative", "scale": {"type": "linear", "domain": [0.01, 2], "nice": false, "zero": false}},
               "y": {"field": "lo", "type": "quantitative", "scale": {"type": "log", "domain": [0.5, 3500], "nice": false}},
               "y2": {"field": "hi"}
             }},
            {"data": {"name": "xvi_pts"}, "mark": {"type": "circle", "color": "black", "opacity": 1, "size": 30, "clip": true},
             "encoding": {
               "x": {"field": "r", "type": "quantitative", "scale": {"type": "linear", "domain": [0.01, 2], "nice": false, "zero": false}},
               "y": {"field": "v", "type": "quantitative", "scale": {"type": "log", "domain": [0.5, 3500], "nice": false}}
             }}
          ]
        }
      ]
    },
    {
      "spacing": 55,
      "resolve": {"scale": {"color": "independent", "strokeDash": "independent"}},
      "hconcat": [
        {
          "width": 599, "height": 254,
          "layer": [
            {"data": {"name": "xvii"}, "mark": {"type": "area", "color": "#32cd32", "opacity": 0.18, "clip": true},
             "encoding": {
               "x": {"field": "r", "type": "quantitative", "scale": {"type": "log", "domain": [0.02, 3.1], "nice": false},
                     "axis": {"title": "r [kpc]", "titleFont": "Liberation Serif", "titleFontSize": 24, "titlePadding": 4,
                              "values": [0.02,0.03,0.04,0.05,0.06,0.07,0.08,0.09,0.1,0.2,0.3,0.4,0.5,0.6,0.7,0.8,0.9,1,2,3],
                              "labelExpr": "abs(log(datum.value)/LN10 - round(log(datum.value)/LN10)) < 0.001 ? ['10⁻²','10⁻¹','10⁰','10¹','10²','10³'][round(log(datum.value)/LN10) + 2] : ''",
                              "tickSize": {"condition": {"test": "abs(log(datum.value)/LN10 - round(log(datum.value)/LN10)) < 0.001", "value": 5}, "value": 3}}},
               "y": {"field": "hi", "type": "quantitative", "scale": {"type": "log", "domain": [0.5, 1000], "nice": false},
                     "axis": {"title": "Σ*[M⊙/Kpc⁻²]", "titleFont": "DejaVu Sans", "titleFontSize": 22, "titleFontStyle": "italic", "titlePadding": 12,
                              "values": [0.5,0.6,0.7,0.8,0.9,1,2,3,4,5,6,7,8,9,10,20,30,40,50,60,70,80,90,100,200,300,400,500,600,700,800,900,1000],
                              "labelExpr": "abs(log(datum.value)/LN10 - round(log(datum.value)/LN10)) < 0.001 ? ['10⁻²','10⁻¹','10⁰','10¹','10²','10³'][round(log(datum.value)/LN10) + 2] : ''",
                              "tickSize": {"condition": {"test": "abs(log(datum.value)/LN10 - round(log(datum.value)/LN10)) < 0.001", "value": 5}, "value": 3}}},
               "y2": {"field": "lo"}
             }},
            {"data": {"name": "xvii_hl"}, "mark": {"type": "rect", "fill": "#ffa500", "fillOpacity": 0.17, "stroke": "#ffa500", "strokeOpacity": 0.3, "strokeWidth": 1.5},
             "encoding": {"x": {"field": "a", "type": "quantitative", "scale": {"type": "log", "domain": [0.02, 3.1], "nice": false}}, "x2": {"field": "b"}}},
            {"data": {"name": "xvii_hl"}, "mark": {"type": "rule", "color": "#ffa500", "strokeWidth": 2},
             "encoding": {"x": {"field": "c", "type": "quantitative", "scale": {"type": "log", "domain": [0.02, 3.1], "nice": false}}}},
            {"data": {"name": "xvii"}, "mark": {"type": "line", "strokeWidth": 2, "clip": true},
             "encoding": {
               "x": {"field": "r", "type": "quantitative", "scale": {"type": "log", "domain": [0.02, 3.1], "nice": false}},
               "y": {"field": "star", "type": "quantitative", "scale": {"type": "log", "domain": [0.5, 1000], "nice": false}},
               "color": {"datum": "Stellar best fit", "type": "nominal", "scale": {"domain": ["Stellar best fit", "NFW", "Plummer"], "range": ["#00ff00", "#000000", "#ff0000"]}, "legend": {"title": null}},
               "strokeDash": {"datum": "Stellar best fit", "type": "nominal", "scale": {"domain": ["Stellar best fit", "NFW", "Plummer"], "range": [[1, 0], [1, 0], [7, 3]]}, "legend": {"title": null}}
             }},
            {"data": {"name": "xvii"}, "mark": {"type": "line", "strokeWidth": 2, "clip": true},
             "encoding": {
               "x": {"field": "r", "type": "quantitative", "scale": {"type": "log", "domain": [0.02, 3.1], "nice": false}},
               "y": {"field": "nfw", "type": "quantitative", "scale": {"type": "log", "domain": [0.5, 1000], "nice": false}},
               "color": {"datum": "NFW", "type": "nominal", "scale": {"domain": ["Stellar best fit", "NFW", "Plummer"], "range": ["#00ff00", "#000000", "#ff0000"]}, "legend": {"title": null}},
               "strokeDash": {"datum": "NFW", "type": "nominal", "scale": {"domain": ["Stellar best fit", "NFW", "Plummer"], "range": [[1, 0], [1, 0], [7, 3]]}, "legend": {"title": null}}
             }},
            {"data": {"name": "xvii"}, "mark": {"type": "line", "strokeWidth": 2, "clip": true},
             "encoding": {
               "x": {"field": "r", "type": "quantitative", "scale": {"type": "log", "domain": [0.02, 3.1], "nice": false}},
               "y": {"field": "plum", "type": "quantitative", "scale": {"type": "log", "domain": [0.5, 1000], "nice": false}},
               "color": {"datum": "Plummer", "type": "nominal", "scale": {"domain": ["Stellar best fit", "NFW", "Plummer"], "range": ["#00ff00", "#000000", "#ff0000"]}, "legend": {"title": null}},
               "strokeDash": {"datum": "Plummer", "type": "nominal", "scale": {"domain": ["Stellar best fit", "NFW", "Plummer"], "range": [[1, 0], [1, 0], [7, 3]]}, "legend": {"title": null}}
             }},
            {"data": {"name": "xvii_pts"}, "mark": {"type": "rule", "color": "black", "strokeWidth": 2, "clip": true},
             "encoding": {
               "x": {"field": "r", "type": "quantitative", "scale": {"type": "log", "domain": [0.02, 3.1], "nice": false}},
               "y": {"field": "lo", "type": "quantitative", "scale": {"type": "log", "domain": [0.5, 1000], "nice": false}},
               "y2": {"field": "hi"}
             }},
            {"data": {"name": "xvii_pts"}, "mark": {"type": "circle", "color": "black", "opacity": 1, "size": 30, "clip": true},
             "encoding": {
               "x": {"field": "r", "type": "quantitative", "scale": {"type": "log", "domain": [0.02, 3.1], "nice": false}},
               "y": {"field": "v", "type": "quantitative", "scale": {"type": "log", "domain": [0.5, 1000], "nice": false}}
             }},
            {"data": {"name": "xvii_lbl"}, "mark": {"type": "text", "font": "DejaVu Sans Condensed, DejaVu Sans", "fontSize": 26, "fontWeight": "bold", "fontStyle": "italic", "align": "left", "baseline": "alphabetic", "color": "black"},
             "encoding": {
               "x": {"field": "r", "type": "quantitative", "scale": {"type": "log", "domain": [0.02, 3.1], "nice": false}},
               "y": {"field": "v", "type": "quantitative", "scale": {"type": "log", "domain": [0.5, 1000], "nice": false}},
               "text": {"field": "t"}
             }}
          ]
        },
        {
          "width": 599, "height": 254,
          "layer": [
            {"data": {"name": "xvii"}, "mark": {"type": "area", "color": "#32cd32", "opacity": 0.18, "clip": true},
             "encoding": {
               "x": {"field": "r", "type": "quantitative", "scale": {"type": "linear", "domain": [0.02, 3.1], "nice": false, "zero": false},
                     "axis": {"title": "r [kpc]", "titleFont": "Liberation Serif", "titleFontSize": 24, "titlePadding": 4,
                              "values": [0.5, 1, 1.5, 2, 2.5, 3], "format": ".1f", "tickSize": 5}},
               "y": {"field": "hi", "type": "quantitative", "scale": {"type": "log", "domain": [0.5, 1000], "nice": false},
                     "axis": {"title": null,
                              "values": [0.5,0.6,0.7,0.8,0.9,1,2,3,4,5,6,7,8,9,10,20,30,40,50,60,70,80,90,100,200,300,400,500,600,700,800,900,1000],
                              "labelExpr": "abs(log(datum.value)/LN10 - round(log(datum.value)/LN10)) < 0.001 ? ['10⁻²','10⁻¹','10⁰','10¹','10²','10³'][round(log(datum.value)/LN10) + 2] : ''",
                              "tickSize": {"condition": {"test": "abs(log(datum.value)/LN10 - round(log(datum.value)/LN10)) < 0.001", "value": 5}, "value": 3}}},
               "y2": {"field": "lo"}
             }},
            {"data": {"name": "xvii_hl"}, "mark": {"type": "rect", "fill": "#ffa500", "fillOpacity": 0.17, "stroke": "#ffa500", "strokeOpacity": 0.3, "strokeWidth": 1.5},
             "encoding": {"x": {"field": "a", "type": "quantitative", "scale": {"type": "linear", "domain": [0.02, 3.1], "nice": false, "zero": false}}, "x2": {"field": "b"}}},
            {"data": {"name": "xvii_hl"}, "mark": {"type": "rule", "color": "#ffa500", "strokeWidth": 2},
             "encoding": {"x": {"field": "c", "type": "quantitative", "scale": {"type": "linear", "domain": [0.02, 3.1], "nice": false, "zero": false}}}},
            {"data": {"name": "xvii"}, "mark": {"type": "line", "strokeWidth": 2, "clip": true},
             "encoding": {
               "x": {"field": "r", "type": "quantitative", "scale": {"type": "linear", "domain": [0.02, 3.1], "nice": false, "zero": false}},
               "y": {"field": "star", "type": "quantitative", "scale": {"type": "log", "domain": [0.5, 1000], "nice": false}},
               "color": {"datum": "Stellar best fit", "type": "nominal", "scale": {"domain": ["Stellar best fit", "NFW", "Plummer"], "range": ["#00ff00", "#000000", "#ff0000"]}, "legend": null},
               "strokeDash": {"datum": "Stellar best fit", "type": "nominal", "scale": {"domain": ["Stellar best fit", "NFW", "Plummer"], "range": [[1, 0], [1, 0], [7, 3]]}, "legend": null}
             }},
            {"data": {"name": "xvii"}, "mark": {"type": "line", "strokeWidth": 2, "clip": true},
             "encoding": {
               "x": {"field": "r", "type": "quantitative", "scale": {"type": "linear", "domain": [0.02, 3.1], "nice": false, "zero": false}},
               "y": {"field": "nfw", "type": "quantitative", "scale": {"type": "log", "domain": [0.5, 1000], "nice": false}},
               "color": {"datum": "NFW", "type": "nominal", "scale": {"domain": ["Stellar best fit", "NFW", "Plummer"], "range": ["#00ff00", "#000000", "#ff0000"]}, "legend": null},
               "strokeDash": {"datum": "NFW", "type": "nominal", "scale": {"domain": ["Stellar best fit", "NFW", "Plummer"], "range": [[1, 0], [1, 0], [7, 3]]}, "legend": null}
             }},
            {"data": {"name": "xvii"}, "mark": {"type": "line", "strokeWidth": 2, "clip": true},
             "encoding": {
               "x": {"field": "r", "type": "quantitative", "scale": {"type": "linear", "domain": [0.02, 3.1], "nice": false, "zero": false}},
               "y": {"field": "plum", "type": "quantitative", "scale": {"type": "log", "domain": [0.5, 1000], "nice": false}},
               "color": {"datum": "Plummer", "type": "nominal", "scale": {"domain": ["Stellar best fit", "NFW", "Plummer"], "range": ["#00ff00", "#000000", "#ff0000"]}, "legend": null},
               "strokeDash": {"datum": "Plummer", "type": "nominal", "scale": {"domain": ["Stellar best fit", "NFW", "Plummer"], "range": [[1, 0], [1, 0], [7, 3]]}, "legend": null}
             }},
            {"data": {"name": "xvii_pts"}, "mark": {"type": "rule", "color": "black", "strokeWidth": 2, "clip": true},
             "encoding": {
               "x": {"field": "r", "type": "quantitative", "scale": {"type": "linear", "domain": [0.02, 3.1], "nice": false, "zero": false}},
               "y": {"field": "lo", "type": "quantitative", "scale": {"type": "log", "domain": [0.5, 1000], "nice": false}},
               "y2": {"field": "hi"}
             }},
            {"data": {"name": "xvii_pts"}, "mark": {"type": "circle", "color": "black", "opacity": 1, "size": 30, "clip": true},
             "encoding": {
               "x": {"field": "r", "type": "quantitative", "scale": {"type": "linear", "domain": [0.02, 3.1], "nice": false, "zero": false}},
               "y": {"field": "v", "type": "quantitative", "scale": {"type": "log", "domain": [0.5, 1000], "nice": false}}
             }}
          ]
        }
      ]
    }
  ]
}
